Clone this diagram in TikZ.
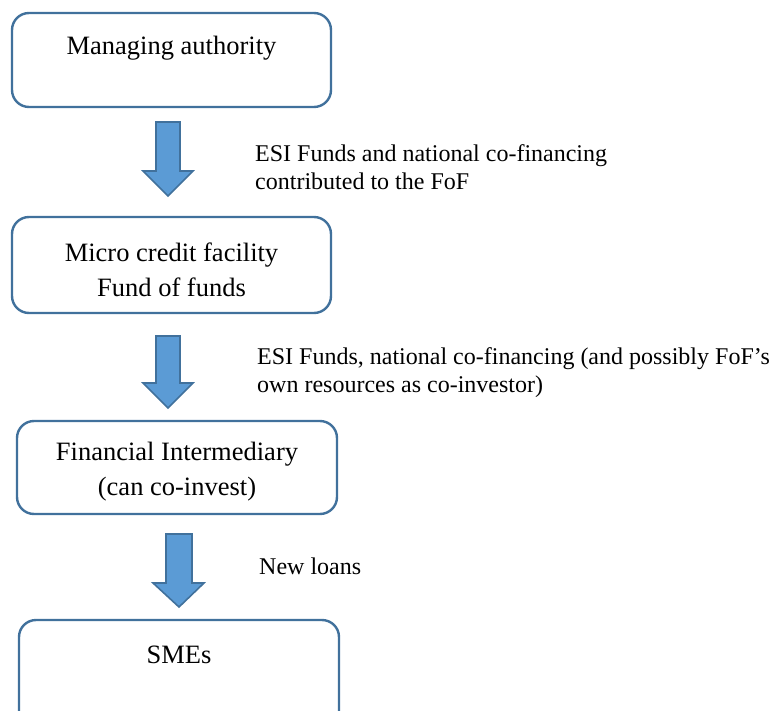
\documentclass[tikz,border=0pt]{standalone}
\usepackage{fontspec}
\setmainfont{Liberation Serif}
\definecolor{boxline}{HTML}{41719C}
\definecolor{arrowfill}{HTML}{5B9BD5}
\begin{document}
\begin{tikzpicture}[x=1pt,y=-1pt,
  box/.style={draw=boxline,line width=2.4pt,rounded corners=17pt,fill=white,inner sep=0pt},
  boxtext/.style={font=\fontsize{26.5}{35}\selectfont,align=center,inner sep=0pt},
  lbl/.style={font=\fontsize{24}{28}\selectfont,align=left,anchor=north west,inner sep=0pt},
  blockarrow/.style={draw=boxline,line width=1.6pt,fill=arrowfill,line join=miter}]
\useasboundingbox (0,0) rectangle (776,711);
% boxes
\node[box,minimum width=319pt,minimum height=94pt] (b1) at (171.5,60) {};
\node[box,minimum width=319pt,minimum height=96pt] (b2) at (171.5,265) {};
\node[box,minimum width=320pt,minimum height=93pt] (b3) at (177,467.5) {};
\node[box,minimum width=320pt,minimum height=120pt] (b4) at (179,680) {};
% box texts
\node[boxtext] (t1) at (171.5,48) {Managing authority};
\node[boxtext] (t2) at (171.5,270) {Micro credit facility\\Fund of funds};
\node[boxtext] (t3) at (177,472) {Financial Intermediary\\(can co-invest)};
\node[boxtext] (t4) at (179,655) {SMEs};
% block arrows
\draw[blockarrow] (156,122) -- (180,122) -- (180,171) -- (193,171) -- (168,196) -- (143,171) -- (156,171) -- cycle;
\draw[blockarrow] (156,336) -- (180,336) -- (180,383) -- (193,383) -- (168,408) -- (143,383) -- (156,383) -- cycle;
\draw[blockarrow] (166,534) -- (192,534) -- (192,583) -- (204,583) -- (179,607) -- (153,583) -- (166,583) -- cycle;
% labels
\node[lbl] (l1) at (255,144) {ESI Funds and national co-financing\\contributed to the FoF};
\node[lbl] (l2) at (257,347) {ESI Funds, national co-financing (and possibly FoF’s\\own resources as co-investor)};
\node[lbl] (l3) at (259,558) {New loans};
\end{tikzpicture}
\end{document}
